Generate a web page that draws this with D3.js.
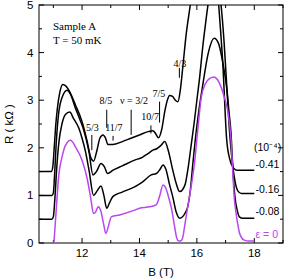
<!DOCTYPE html>
<html><head><meta charset="utf-8">
<script src="https://cdn.jsdelivr.net/npm/d3@7"></script>
<style>body{margin:0;background:#fff}svg{display:block}</style>
</head><body>
<svg id="c" width="297" height="278"></svg>
<script>
// ---- data ----
// epsilon = 0 (purple)
const B_e0 = [11.02, 11.1, 11.19, 11.3, 11.43, 11.6, 11.77, 12.0, 12.18, 12.3, 12.4, 12.48, 12.56, 12.66, 12.75, 12.83, 12.92, 13.02, 13.31, 13.83, 14.0, 14.35, 14.58, 14.7, 14.82, 14.92, 15.02, 15.11, 15.22, 15.3, 15.37, 15.45, 15.52, 15.57, 15.65, 15.74, 15.83, 15.92, 16.03, 16.15, 16.3, 16.45, 16.6, 16.72, 16.84, 16.96, 17.07, 17.19, 17.25, 17.3, 17.36, 17.42, 17.48, 17.54, 17.65, 17.8, 18.0];
const R_e0 = [0.0, 0.7, 1.43, 1.8, 2.06, 2.16, 2.02, 1.74, 1.35, 0.95, 0.62, 0.66, 0.76, 0.66, 0.4, 0.2, 0.36, 0.55, 0.59, 0.69, 0.73, 0.76, 0.8, 0.98, 1.22, 1.15, 0.95, 0.74, 0.36, 0.1, 0.04, 0.05, 0.15, 0.34, 0.65, 0.97, 1.3, 1.7, 2.37, 3.05, 3.35, 3.46, 3.49, 3.43, 3.28, 3.05, 2.79, 2.16, 1.5, 0.97, 0.65, 0.41, 0.22, 0.13, 0.06, 0.04, 0.04];
// epsilon = -0.08 (offset 0.5)
const B_e1 = [10.5, 10.95, 11.0, 11.05, 11.12, 11.2, 11.3, 11.42, 11.57, 11.7, 11.89, 12.0, 12.12, 12.25, 12.4, 12.53, 12.66, 12.76, 12.86, 12.96, 13.08, 13.4, 13.83, 14.1, 14.41, 14.59, 14.72, 14.82, 14.92, 15.05, 15.16, 15.28, 15.4, 15.5, 15.6, 15.68, 15.78, 15.86, 15.95, 16.05, 16.2, 16.4, 16.6, 16.75, 16.9, 17.05, 17.12, 17.19, 17.25, 17.32, 17.4, 17.48, 17.6, 18.0];
const R_e1 = [0.5, 0.5, 0.55, 0.9, 1.6, 2.15, 2.5, 2.7, 2.75, 2.62, 2.41, 2.2, 1.92, 1.5, 1.0, 1.1, 1.2, 1.0, 0.73, 0.85, 0.98, 1.07, 1.18, 1.28, 1.43, 1.46, 1.55, 1.64, 1.55, 1.22, 0.97, 0.65, 0.52, 0.55, 0.64, 0.76, 1.15, 1.67, 2.2, 2.7, 3.3, 4.0, 4.3, 4.2, 3.8, 3.2, 2.75, 2.3, 1.6, 1.0, 0.7, 0.55, 0.52, 0.52];
// epsilon = -0.16 (offset 1.0)
const B_e2 = [10.5, 10.95, 11.0, 11.04, 11.1, 11.18, 11.3, 11.48, 11.6, 11.77, 11.92, 12.06, 12.24, 12.38, 12.5, 12.66, 12.78, 12.89, 13.08, 13.4, 13.83, 14.1, 14.3, 14.47, 14.6, 14.75, 14.88, 15.0, 15.16, 15.28, 15.4, 15.5, 15.6, 15.7, 15.8, 15.9, 16.0, 16.1, 16.2, 16.3, 16.4, 16.5, 16.62, 16.75, 16.84, 16.95, 17.05, 17.13, 17.2, 17.3, 17.42, 17.55, 18.0];
const R_e2 = [1.0, 1.0, 1.05, 1.4, 2.1, 2.7, 3.05, 3.21, 3.12, 2.83, 2.6, 2.37, 1.92, 1.43, 1.5, 1.67, 1.6, 1.46, 1.53, 1.62, 1.74, 1.8, 1.88, 1.95, 1.98, 2.05, 2.13, 1.95, 1.53, 1.25, 1.08, 1.12, 1.25, 1.6, 2.05, 2.5, 3.0, 3.5, 4.1, 4.6, 5.05, 5.3, 5.4, 5.3, 5.0, 4.2, 3.2, 2.4, 1.9, 1.4, 1.1, 1.04, 1.04];
// epsilon = -0.41 (offset 1.5)
const B_e3 = [10.5, 10.93, 10.98, 11.03, 11.08, 11.14, 11.22, 11.33, 11.43, 11.54, 11.77, 12.0, 12.18, 12.3, 12.4, 12.52, 12.62, 12.73, 12.82, 12.9, 13.07, 13.4, 13.7, 14.0, 14.3, 14.47, 14.56, 14.66, 14.78, 14.88, 14.97, 15.05, 15.15, 15.25, 15.34, 15.42, 15.51, 15.63, 15.77, 15.9, 16.1, 16.4, 16.6, 16.76, 16.9, 17.04, 17.15, 17.3, 17.4, 18.0];
const R_e3 = [1.5, 1.5, 1.6, 2.0, 2.45, 2.83, 3.15, 3.33, 3.3, 3.21, 2.9, 2.55, 2.13, 1.8, 1.72, 1.95, 2.2, 2.27, 2.2, 2.07, 2.07, 2.13, 2.2, 2.27, 2.34, 2.36, 2.3, 2.21, 2.4, 2.76, 3.0, 3.1, 3.08, 3.0, 2.97, 3.2, 3.7, 4.4, 5.0, 5.6, 6.2, 6.5, 6.3, 5.0, 3.8, 2.16, 1.75, 1.56, 1.53, 1.53];

const seriesLabels = ["ε = 0", "-0.08", "-0.16", "-0.41"];
const unitLabel = "(10⁻⁴)";
const xTicks = [12, 14, 16, 18];
const yTicks = [0, 1, 2, 3, 4, 5];
// filling factor annotations
const nuLabels = ["5/3", "8/5", "11/7", "ν = 3/2", "10/7", "7/5", "4/3"];
const nuB      = [12.34, 12.86, 13.08, 13.71, 14.4, 14.7, 15.39];
const nuLabelB = [12.36, 12.83, 13.11, 13.81, 14.37, 14.68, 15.41];
const nuLabR   = [2.36, 2.92, 2.36, 2.92, 2.58, 3.07, 3.7];
const nuTopR   = [2.27, 2.8, 2.25, 2.8, 2.47, 2.97, 3.68];
const nuBotR   = [1.95, 2.42, 2.15, 2.27, 2.3, 2.53, 3.47];

// ---- layout ----
const L = 39, T = 5, Rr = 283, Bt = 243;
const svg = d3.select("#c");
const x = d3.scaleLinear().domain([10.5, 19]).range([L, Rr]);
const y = d3.scaleLinear().domain([0, 5]).range([Bt, T]);

svg.append("defs").append("clipPath").attr("id", "clip")
  .append("rect").attr("x", L).attr("y", T).attr("width", Rr - L).attr("height", Bt - T);

const sans = "'Liberation Sans', Arial, sans-serif";
const serif = "'Liberation Serif', 'Times New Roman', serif";

// frame
svg.append("rect").attr("x", L).attr("y", T).attr("width", Rr - L).attr("height", Bt - T)
  .attr("fill", "none").attr("stroke", "#000").attr("stroke-width", 1);

// ticks
const xMinor = d3.range(11, 19.01, 1).filter(v => !xTicks.includes(v));
const yMinor = d3.range(0.5, 5, 1);
const g = svg.append("g").attr("stroke", "#000").attr("stroke-width", 1);
xTicks.forEach(v => {
  g.append("line").attr("x1", x(v)).attr("x2", x(v)).attr("y1", Bt).attr("y2", Bt - 5);
  g.append("line").attr("x1", x(v)).attr("x2", x(v)).attr("y1", T).attr("y2", T + 5);
});
xMinor.forEach(v => {
  g.append("line").attr("x1", x(v)).attr("x2", x(v)).attr("y1", Bt).attr("y2", Bt - 3);
  g.append("line").attr("x1", x(v)).attr("x2", x(v)).attr("y1", T).attr("y2", T + 3);
});
yTicks.forEach(v => {
  g.append("line").attr("x1", L).attr("x2", L + 5).attr("y1", y(v)).attr("y2", y(v));
  g.append("line").attr("x1", Rr).attr("x2", Rr - 5).attr("y1", y(v)).attr("y2", y(v));
});
yMinor.forEach(v => {
  g.append("line").attr("x1", L).attr("x2", L + 3).attr("y1", y(v)).attr("y2", y(v));
  g.append("line").attr("x1", Rr).attr("x2", Rr - 3).attr("y1", y(v)).attr("y2", y(v));
});

// tick labels
svg.append("g").selectAll("text").data(xTicks).join("text")
  .attr("x", d => x(d)).attr("y", 256.5).attr("text-anchor", "middle")
  .attr("font-family", sans).attr("font-size", 11.5).text(d => d);
svg.append("g").selectAll("text").data(yTicks).join("text")
  .attr("x", 33.5).attr("y", d => y(d) + 4).attr("text-anchor", "end")
  .attr("font-family", sans).attr("font-size", 11.5).text(d => d);

// axis titles
svg.append("text").attr("x", 161).attr("y", 276).attr("text-anchor", "middle")
  .attr("font-family", sans).attr("font-size", 11.5).text("B (T)");
svg.append("text").attr("transform", "translate(13,124) rotate(-90)").attr("text-anchor", "middle")
  .attr("font-family", sans).attr("font-size", 11.5).text("R ( kΩ )");

// curves
const line = d3.line().x(d => x(d[0])).y(d => y(d[1])).curve(d3.curveMonotoneX);
const curves = [
  {B: B_e3, R: R_e3, c: "#000"},
  {B: B_e2, R: R_e2, c: "#000"},
  {B: B_e1, R: R_e1, c: "#000"},
  {B: B_e0, R: R_e0, c: "#b946f0"}
];
const cg = svg.append("g").attr("clip-path", "url(#clip)");
curves.forEach(s => {
  cg.append("path").datum(d3.zip(s.B, s.R)).attr("d", line)
    .attr("fill", "none").attr("stroke", s.c).attr("stroke-width", 1.5);
});

// sample info
svg.append("text").attr("x", 53).attr("y", 29.5).attr("font-family", serif).attr("font-size", 11).text("Sample A");
svg.append("text").attr("x", 53).attr("y", 43.5).attr("font-family", serif).attr("font-size", 11).text("T = 50 mK");

// nu annotations
nuLabels.forEach((t, i) => {
  svg.append("text").attr("x", x(nuLabelB[i])).attr("y", y(nuLabR[i]))
    .attr("text-anchor", "middle").attr("font-family", serif).attr("font-size", 10).text(t);
  svg.append("line").attr("x1", x(nuB[i])).attr("x2", x(nuB[i]))
    .attr("y1", y(nuTopR[i])).attr("y2", y(nuBotR[i])).attr("stroke", "#000").attr("stroke-width", 1);
});

// right-side labels
svg.append("text").attr("x", 254).attr("y", 151).attr("font-family", sans).attr("font-size", 10.5).text(unitLabel);
const labR = [0.1, 0.58, 1.05, 1.57];
const labCol = ["#b946f0", "#000", "#000", "#000"];
seriesLabels.forEach((t, i) => {
  svg.append("text").attr("x", 255.5).attr("y", y(labR[i]))
    .attr("font-family", sans).attr("font-size", 10.5).attr("fill", labCol[i]).text(t);
});
</script>
</body></html>
